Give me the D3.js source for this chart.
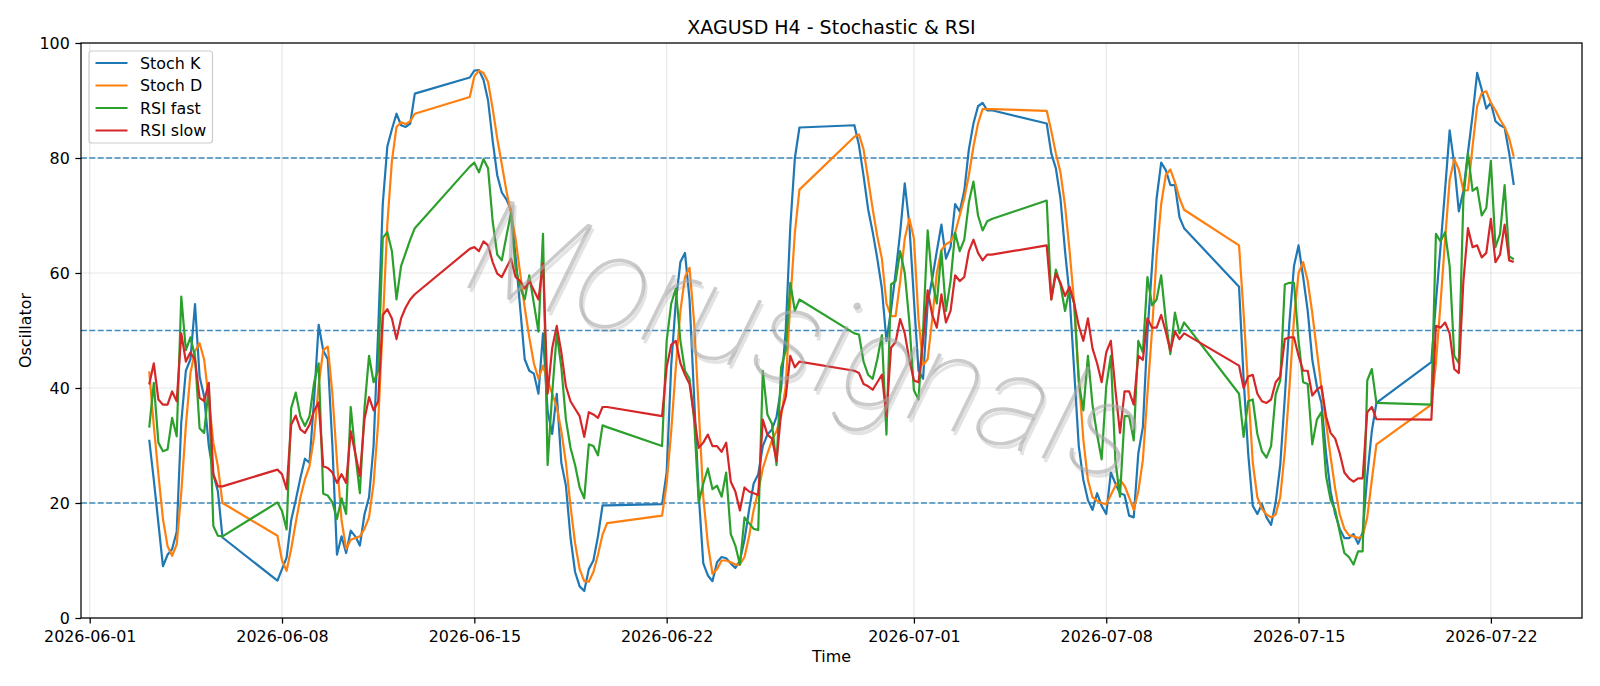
<!DOCTYPE html>
<html>
<head>
<meta charset="utf-8">
<script src="https://cdn.jsdelivr.net/npm/d3@7"></script>
<style>
  html, body { margin: 0; padding: 0; background: #fff; }
  svg { display: block; font-family: "DejaVu Sans", sans-serif; }
</style>
</head>
<body>
<script>
// H4 trading sessions (UTC), one bar every 4 hours inside each
const sessions = [
  ['2026-06-03T04:00:00Z', '2026-06-05T20:00:00Z'],
  ['2026-06-07T20:00:00Z', '2026-06-12T20:00:00Z'],
  ['2026-06-14T20:00:00Z', '2026-06-19T20:00:00Z'],
  ['2026-06-21T20:00:00Z', '2026-06-26T20:00:00Z'],
  ['2026-06-28T20:00:00Z', '2026-07-03T20:00:00Z'],
  ['2026-07-05T20:00:00Z', '2026-07-10T20:00:00Z'],
  ['2026-07-12T20:00:00Z', '2026-07-17T20:00:00Z'],
  ['2026-07-19T20:00:00Z', '2026-07-22T20:00:00Z']
];

const stochK = [
  31, 24, 16.5, 9, 11, 12, 15, 34, 43, 45, 54.6, 42, 38.5, 30, 25, 22, 14,
  6.5, 8.5, 10.5, 17, 20.5, 24.3, 27.7, 27, 38, 51, 46.5, 45, 30, 11, 14.2, 11.3, 15.2, 14.2, 12.6, 18, 21, 30, 50, 72, 82, 85, 87.7, 85.7, 85.4, 86, 91.2,
  94, 95.2, 95.3, 93.6, 90, 83, 77, 74, 72.8, 71, 63, 54, 45, 43, 42.5, 39, 49.5, 36, 32, 39, 27, 23, 14, 8, 5.5, 4.7, 8.5, 10, 14.2, 19.6, 19.6,
  19.8, 25.3, 44, 55, 61.9, 63.5, 55.4, 38.4, 21.5, 9.5, 7.4, 6.4, 9.7, 10.6, 10.4, 9.5, 8.7, 10, 13.6, 18.8, 23.4, 25, 29.9, 31.9, 32.8, 35, 40, 50, 68, 80, 85.3,
  85.7, 82.2, 76.9, 71.1, 67.1, 62.5, 57.3, 48.2, 53.5, 60, 67.1, 75.6, 68.4, 55.4, 43, 41.6, 54.7, 59, 63.8, 68.4, 62.5, 64.5, 72, 70.7, 74.3, 81.5, 86, 89, 89.6, 88.3, 88.3,
  86, 80.8, 78.2, 73, 63.8, 56, 43, 29.9, 24, 20.5, 18.8, 21.7, 19.5, 18.1, 25.3, 23.4, 21.7, 21.4, 17.8, 17.5, 28.6, 33.2, 49.5, 61.2, 73, 79.2, 77.9, 75.3, 75.3, 69.7, 67.8,
  57.6, 41.6, 28.6, 19.5, 18.1, 19.8, 17.5, 16.2, 20.1, 26.6, 38.4, 51.4, 61.2, 64.8, 59.3, 53.4, 44.9, 40.3, 37.4, 28.6, 22, 18.1, 15.5, 13.9, 13.9, 14.6, 12.9, 14.9, 24.7, 32.5, 37.4,
  44.5, 55, 64.5, 74.5, 84.8, 78.9, 70.7, 74.3, 81, 87.4, 94.8, 91.9, 88.6, 89.6, 86.4, 85.7, 85.3, 80.8, 75.3
];

const stochD = [
  42.9, 33.4, 25, 17.2, 12.5, 10.8, 12.8, 21.8, 33.4, 42.6, 46.4, 47.8, 44.9, 38, 30.5, 26.4, 20,
  14.3, 10, 8.2, 12, 16.6, 20.9, 24.1, 26.4, 31.5, 40.5, 46.6, 47.2, 39, 27.3, 17, 12, 13.6, 13.9, 14.2, 15.5, 17.5, 23.4, 34, 51, 68.5, 79.5, 85.4, 86.2, 85.9, 86.4, 87.7,
  90.6, 94.2, 95.2, 94.8, 93.2, 88.6, 83.4, 78.9, 74.3, 70.4, 66, 60, 54, 48.8, 44.3, 41.6, 43.9, 41.3, 39, 36.7, 32.5, 27, 19.5, 13, 8.5, 6.4, 6.3, 8, 11, 14.5, 16.5,
  17.8, 23.4, 32.5, 43.6, 53.4, 59.3, 60.9, 51.4, 36.4, 21, 12.9, 7.7, 8.5, 10, 10, 9.7, 9.3, 9.3, 10.6, 14.2, 18.8, 22, 26, 28.6, 30.9, 32.5, 35.1, 40.3, 55, 67, 74.5,
  83.7, 84.1, 81.5, 76.3, 71.1, 66.4, 62.5, 54.7, 52.5, 52.5, 58.6, 66, 69.5, 66, 52, 44, 45, 52, 60, 64, 65, 65.5, 67, 70, 73, 77, 82, 86, 88.5, 88.5, 88.5,
  88.2, 84.7, 80.8, 77.5, 71.7, 63.8, 54.7, 42, 31, 24, 21, 20.4, 20, 19.8, 21.4, 23, 24, 23, 21, 18.8, 22, 27.5, 39, 50, 63, 72, 77, 78, 75.8, 73, 71,
  64.8, 53, 40, 27, 21, 19, 18, 17.5, 18, 21, 29, 40, 52, 60, 61.9, 58.6, 53, 46.5, 40, 34, 28, 22.5, 18, 15.5, 14.4, 14.2, 13.9, 14.2, 17.5, 24, 30.2,
  37.1, 44.3, 54.7, 65.8, 76.2, 79.8, 78, 74.3, 74.4, 82, 89, 91.3, 91.6, 89.6, 88.3, 86.7, 85.4, 83.4, 80.2
];

const rsiFast = [
  33.1, 40.9, 30.5, 29, 29.3, 34.8, 31.6, 55.9, 46.6, 48.8, 45.5, 33, 32.2, 40.3, 16, 14.3, 14.2,
  20.1, 18.6, 15.4, 36.5, 39.2, 35.1, 33.4, 35.1, 40.9, 44.3, 21.6, 21.3, 20.1, 17.2, 20.8, 18.1, 36.7, 28.6, 21.7, 36.4, 45.6, 41, 43, 66.1, 67.1, 63.8, 55.4, 61.2, 63.5, 65.8, 67.8,
  78.5, 79.2, 77.5, 79.8, 78.2, 69, 63.2, 62.2, 66.4, 70.4, 61, 57.5, 55.4, 59.6, 54.7, 49.8, 66.8, 26.6, 39, 49.5, 43.6, 34.5, 29.6, 26.6, 22.7, 20.8, 30.2, 29.9, 28.3, 33.5, 33.2,
  29.9, 48.2, 54.7, 57.3, 48.2, 43, 41.6, 34.5, 20.1, 23.4, 26, 22.4, 23, 21.1, 25.3, 14.6, 12.6, 9.3, 17.5, 16.5, 15.5, 15.3, 43, 35.4, 33.8, 26.6, 43.6, 46.5, 58.3, 53.4, 55.4,
  49.5, 49.3, 44.6, 42.3, 41.6, 45, 49.2, 31.9, 58, 58.6, 63.8, 60, 51.5, 39.6, 38, 50, 67.4, 58.6, 54.7, 63.8, 53.4, 58.6, 67, 63.8, 65.8, 72.3, 75.9, 70, 67.4, 69, 69.4,
  72.6, 55.4, 60.6, 58, 53.4, 57.3, 54.7, 41, 36.1, 45.6, 37.1, 31.9, 27.6, 40.3, 45.6, 27.3, 21.1, 35.1, 35.1, 30.9, 48.2, 46.2, 59.3, 54.4, 55.4, 59.6, 51.8, 45.9, 53.1, 49.5, 51.4,
  39, 31.5, 37.7, 38, 32, 29, 27.9, 29.9, 38.9, 41.3, 58, 58.3, 58.3, 48.2, 41, 40.7, 30.2, 34.5, 35.8, 24.7, 20.5, 18.8, 14.9, 11.3, 10.6, 9.3, 11.6, 11.6, 41.3, 43.3, 37.4,
  37.1, 66.8, 65.5, 67.1, 61.2, 45.6, 44.3, 73, 80.8, 74.3, 74.9, 70, 71.3, 79.5, 64.5, 66.8, 75.3, 62.9, 62.4
];

const rsiSlow = [
  40.6, 44.3, 38, 37.1, 37.1, 39.4, 37.7, 49.5, 44.6, 46.2, 44.9, 38.3, 37.7, 40.9, 25, 22.9, 22.9,
  25.8, 25, 22.4, 33.6, 35.2, 32.8, 32.2, 33.6, 36, 37.5, 26.4, 26.1, 25.3, 23.5, 25, 23.5, 32.5, 28.6, 24.7, 34.5, 38.4, 36.1, 37.7, 52.7, 53.7, 52.1, 48.5, 52.1, 54, 55.4, 56.3,
  64.2, 64.5, 63.8, 65.5, 64.8, 61.9, 59.9, 59.3, 60.9, 62.5, 59.3, 58.6, 57.3, 58.6, 57, 55.4, 61.6, 39, 46.9, 50.8, 46.2, 40.3, 37.7, 36.4, 35.1, 31.5, 35.8, 35.4, 34.8, 36.7, 36.7,
  35.1, 43.6, 47.5, 48.2, 44.3, 42.3, 40.7, 35.1, 29.6, 30.5, 31.9, 29.9, 29.9, 28.9, 30.5, 23.7, 22, 18.7, 22.7, 22, 21.7, 21.4, 34.5, 31.9, 31.2, 27.3, 35.8, 38.4, 45.6, 43.6, 44.6,
  43, 42.6, 40.7, 40.3, 39.7, 41, 42.3, 35.1, 47, 48, 52, 49.5, 44.9, 41.3, 41, 48.2, 57, 52.7, 50.5, 56.3, 51.4, 53.4, 59.6, 58.6, 59.3, 63.8, 65.8, 63.5, 62.2, 63.2, 63.2,
  64.8, 55.4, 59.9, 58.3, 56, 57.6, 54.7, 50.8, 48.2, 52.1, 46.9, 44.3, 41, 46.2, 48.2, 39.7, 32.2, 39.4, 39.4, 37.1, 45.6, 44.9, 52.1, 50.5, 50.5, 52.7, 49.8, 46.5, 49.8, 48.5, 49.5,
  43.9, 40, 42, 42.3, 39, 37.7, 37.4, 38, 41, 42, 48.5, 48.8, 48.8, 45.6, 43, 43, 38.7, 39.7, 40.3, 35.1, 32.2, 31.2, 28.6, 25.3, 24.3, 23.7, 24.3, 24.3, 35.8, 36.7, 34.6,
  34.5, 50.8, 50.5, 51.4, 49.5, 43.3, 42.6, 58.6, 67.8, 64.5, 64.8, 62.7, 63.5, 69.4, 61.9, 63.2, 68.4, 62.2, 61.9
];

const seriesNames = ['Stoch K', 'Stoch D', 'RSI fast', 'RSI slow'];
const seriesColors = ['#1f77b4', '#ff7f0e', '#2ca02c', '#d62728'];
const levels = [20, 50, 80];
const xTickLabels = ['2026-06-01', '2026-06-08', '2026-06-15', '2026-06-22',
                     '2026-07-01', '2026-07-08', '2026-07-15', '2026-07-22'];
const yTicks = [0, 20, 40, 60, 80, 100];
const watermark = 'Morusignals';

(function() {
  'use strict';

  const W = 1600, H = 686;
  const pLeft = 81, pRight = 1582, pTop = 43, pBottom = 618;
  const fs = 15.9;

  // bar timestamps
  const times = [];
  sessions.forEach(([a, b]) => {
    const end = new Date(b).getTime();
    for (let t = new Date(a).getTime(); t <= end; t += 4 * 3600e3) times.push(new Date(t));
  });
  const allSeries = [stochK, stochD, rsiFast, rsiSlow];

  const ext = d3.extent(times);
  const pad = (ext[1] - ext[0]) * 0.05;
  const x = d3.scaleUtc()
    .domain([new Date(+ext[0] - pad), new Date(+ext[1] + pad)])
    .range([pLeft, pRight]);
  const y = d3.scaleLinear().domain([0, 100]).range([pBottom, pTop]);

  const svg = d3.select('body').append('svg')
    .attr('width', W)
    .attr('height', H);

  const xTickDates = xTickLabels.map(s => new Date(s + 'T00:00:00Z'));

  // grid
  svg.append('g').selectAll('line').data(xTickDates).join('line')
    .attr('x1', d => x(d)).attr('x2', d => x(d))
    .attr('y1', pTop).attr('y2', pBottom)
    .attr('stroke', '#b0b0b0').attr('stroke-opacity', 0.3).attr('stroke-width', 1.2);
  svg.append('g').selectAll('line').data(yTicks).join('line')
    .attr('x1', pLeft).attr('x2', pRight)
    .attr('y1', d => y(d)).attr('y2', d => y(d))
    .attr('stroke', '#b0b0b0').attr('stroke-opacity', 0.3).attr('stroke-width', 1.2);

  // reference levels
  svg.append('g').selectAll('line').data(levels).join('line')
    .attr('x1', pLeft).attr('x2', pRight)
    .attr('y1', d => y(d)).attr('y2', d => y(d))
    .attr('stroke', '#1f77b4').attr('stroke-opacity', 0.85)
    .attr('stroke-width', 1.4).attr('stroke-dasharray', '5.9,2.5');

  // series
  const line = d3.line().x((d, i) => x(times[i])).y(d => y(d));
  allSeries.forEach((s, i) => {
    svg.append('path')
      .datum(s.slice(0, times.length))
      .attr('fill', 'none')
      .attr('stroke', seriesColors[i])
      .attr('stroke-width', 2.2)
      .attr('stroke-linejoin', 'round')
      .attr('d', line);
  });

  // watermark, thin italic letters with a soft offset shadow
  const wm = svg.append('g')
    .attr('transform', 'translate(793,384) rotate(16.5)')
    .attr('font-family', '"Roboto", "Lato", "Open Sans", sans-serif')
    .attr('font-size', 134).attr('font-style', 'italic').attr('font-weight', 100)
    .attr('text-anchor', 'middle');
  wm.append('text')
    .attr('x', 3).attr('y', 3)
    .attr('fill', '#808080').attr('fill-opacity', 0.22)
    .text(watermark);
  wm.append('text')
    .attr('fill', '#a8a8a8').attr('fill-opacity', 0.6)
    .text(watermark);

  // axes
  const xAxis = d3.axisBottom(x).tickValues(xTickDates)
    .tickFormat(d3.utcFormat('%Y-%m-%d')).tickSize(5.6).tickPadding(5.6);
  svg.append('g')
    .attr('transform', 'translate(0,' + pBottom + ')')
    .call(xAxis)
    .call(g => g.select('.domain').remove())
    .call(g => g.selectAll('line').attr('stroke', '#000').attr('stroke-width', 1.25))
    .call(g => g.selectAll('text').attr('font-family', 'DejaVu Sans').attr('font-size', fs)
      .attr('fill', '#000').attr('dy', '0.79em'));

  const yAxis = d3.axisLeft(y).tickValues(yTicks).tickSize(5.6).tickPadding(5.6);
  svg.append('g')
    .attr('transform', 'translate(' + pLeft + ',0)')
    .call(yAxis)
    .call(g => g.select('.domain').remove())
    .call(g => g.selectAll('line').attr('stroke', '#000').attr('stroke-width', 1.25))
    .call(g => g.selectAll('text').attr('font-family', 'DejaVu Sans').attr('font-size', fs)
      .attr('fill', '#000').attr('dy', '0.36em'));

  // frame
  svg.append('rect')
    .attr('x', pLeft).attr('y', pTop)
    .attr('width', pRight - pLeft).attr('height', pBottom - pTop)
    .attr('fill', 'none').attr('stroke', '#000').attr('stroke-width', 1.25);

  // titles
  svg.append('text')
    .attr('x', (pLeft + pRight) / 2).attr('y', 33.5)
    .attr('text-anchor', 'middle').attr('font-size', 19)
    .text('XAGUSD H4 - Stochastic & RSI');
  svg.append('text')
    .attr('x', (pLeft + pRight) / 2).attr('y', 662)
    .attr('text-anchor', 'middle').attr('font-size', fs)
    .text('Time');
  svg.append('text')
    .attr('transform', 'translate(31,' + (pTop + pBottom) / 2 + ') rotate(-90)')
    .attr('text-anchor', 'middle').attr('font-size', fs)
    .text('Oscillator');

  // legend
  const lg = svg.append('g');
  lg.append('rect')
    .attr('x', 89).attr('y', 51).attr('width', 123.5).attr('height', 92)
    .attr('rx', 3).attr('fill', '#fff').attr('fill-opacity', 0.8)
    .attr('stroke', '#cccccc').attr('stroke-width', 1.2);
  seriesNames.forEach((name, i) => {
    const cy = 63 + i * 22.5;
    lg.append('line')
      .attr('x1', 95.5).attr('x2', 127.5).attr('y1', cy).attr('y2', cy)
      .attr('stroke', seriesColors[i]).attr('stroke-width', 2.2);
    lg.append('text')
      .attr('x', 140).attr('y', cy).attr('dy', '0.36em')
      .attr('font-size', fs)
      .text(name);
  });
}());
</script>
</body>
</html>
